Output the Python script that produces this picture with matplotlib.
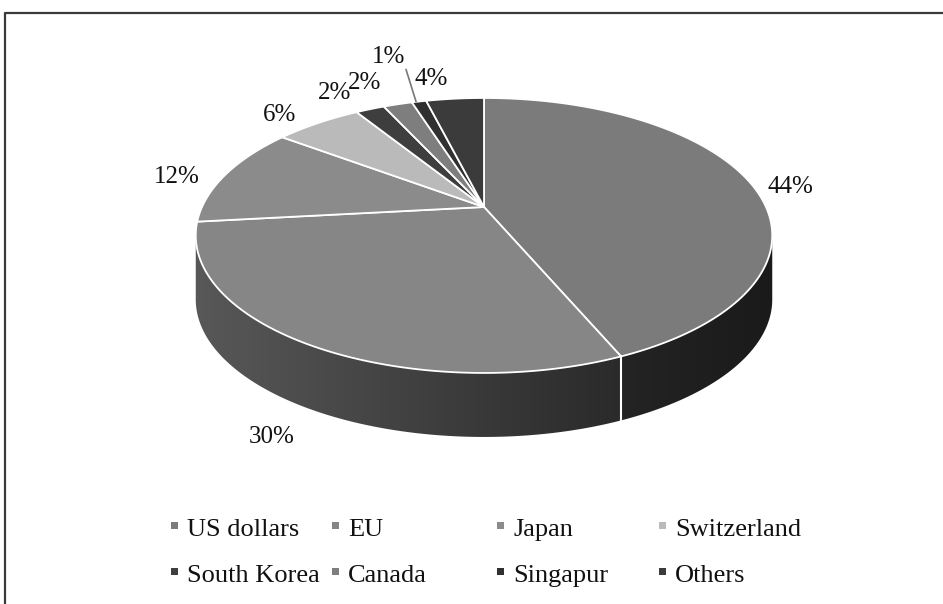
import numpy as np
import matplotlib.pyplot as plt
from matplotlib.patches import Polygon, Rectangle

currencies = ['US dollars', 'EU', 'Japan', 'Switzerland',
              'South Korea', 'Canada', 'Singapur', 'Others']
shares = [44, 30, 12, 6, 2, 2, 1, 4]

top_colors = ['#7b7b7b', '#868686', '#8b8b8b', '#bababa',
              '#3e3e3e', '#7e7e7e', '#303030', '#3b3b3b']
# side colours (left end, right end) for the visible rim
side_colors = [('#242424', '#1a1a1a'), ('#585858', '#2a2a2a'), ('#4a4a4a', '#3a3a3a'),
               ('#777777', '#666666'), ('#2a2a2a', '#222222'), ('#4a4a4a', '#3a3a3a'),
               ('#222222', '#1c1c1c'), ('#282828', '#202020')]

# pie geometry in pixels (x right, y down)
CX, CY = 484, 207
A, B, K = 282, 131.6, 0.207
DEPTH = 64

# label nudges in pixels from the default position
label_nudge = [(3, 9), (-6, 2), (-13, 7), (-17, 3), (-21, -4), (-23, -9), (-23, -32), (-20, -7)]


def project(theta, r=1.0, drop=0.0):
    t = np.radians(theta)
    u, v = r * np.cos(t), r * np.sin(t)
    w = 1 + K * v
    return CX + A * u / w, CY - B * v / w + drop


def rgb(c):
    return np.array([int(c[i:i + 2], 16) for i in (1, 3, 5)]) / 255


fig = plt.figure(figsize=(9.43, 6.04), dpi=100)
ax = fig.add_axes([0, 0, 1, 1])

total = sum(shares)
bounds = 90 - 360 * np.concatenate([[0], np.cumsum(shares)]) / total
vis_lo = -180 + np.degrees(np.arcsin(K))
vis_hi = -np.degrees(np.arcsin(K))

# side walls with a left-to-right shade
for i in range(len(shares)):
    lo = max(bounds[i + 1], vis_lo)
    hi = min(bounds[i], vis_hi)
    if lo >= hi:
        continue
    th = np.linspace(lo, hi, 200)
    xs, ys = project(th)
    pts = list(zip(xs, ys)) + list(zip(xs[::-1], ys[::-1] + DEPTH))
    wall = Polygon(pts, closed=True, facecolor='none', edgecolor='none')
    ax.add_patch(wall)
    f = np.linspace(0, 1, 256)[:, None]
    c0, c1 = rgb(side_colors[i][0]), rgb(side_colors[i][1])
    grad = (c0 + (c1 - c0) * f)[None, :, :]
    im = ax.imshow(grad, extent=(xs.min() - 2, xs.max() + 2, ys.max() + DEPTH + 2, ys.min() - 2),
                   aspect='auto', interpolation='bilinear')
    im.set_clip_path(wall)

for b in bounds:
    if vis_lo < b < vis_hi:
        x0, y0 = project(b)
        ax.plot([x0, x0], [y0, y0 + DEPTH], color='white', lw=1.5)

# top faces
for i in range(len(shares)):
    th = np.linspace(bounds[i], bounds[i + 1], 200)
    xs, ys = project(th)
    pts = [(CX, CY)] + list(zip(xs, ys))
    ax.add_patch(Polygon(pts, closed=True, facecolor=top_colors[i],
                         edgecolor='white', lw=1.3, joinstyle='round'))

# percentage labels
for i, v in enumerate(shares):
    mid = (bounds[i] + bounds[i + 1]) / 2
    x, y = project(mid, 1.15)
    if np.sin(np.radians(mid)) < -0.5:
        y += DEPTH
    x += label_nudge[i][0]
    y += label_nudge[i][1]
    ax.text(x, y, f'{v}%', ha='center', va='center', fontsize=18,
            family='Liberation Serif', color='#111111')
    if currencies[i] == 'Singapur':
        rx, ry = project(mid)
        ax.plot([x + 18, rx - 3], [y + 13, ry], color='#777777', lw=1.2)

# legend
col_x = [174, 335, 500, 662]
row_y = [536, 582]
for i, name in enumerate(currencies):
    mx = col_x[i % 4]
    by = row_y[i // 4]
    ax.add_patch(Rectangle((mx - 3.5, by - 14), 7, 7, facecolor=top_colors[i], edgecolor='none'))
    ax.text(mx + 13, by, name, ha='left', va='baseline', fontsize=19,
            family='Liberation Serif', color='#111111')

# outer frame
ax.plot([5, 5, 960], [620, 13, 13], color='#3a3a3a', lw=1.6, clip_on=False)

ax.set_xlim(0, 943)
ax.set_ylim(604, 0)
ax.axis('off')

fig.savefig('out.png', dpi=100)
